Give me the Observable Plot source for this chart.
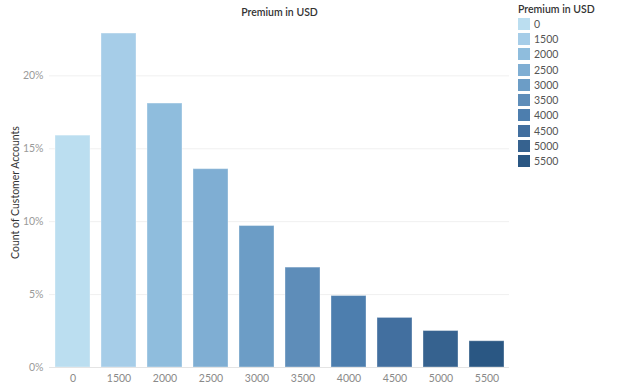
<!DOCTYPE html>
<html><head><meta charset="utf-8">
<script src="https://cdn.jsdelivr.net/npm/d3@7"></script>
<script src="https://cdn.jsdelivr.net/npm/@observablehq/plot@0.6"></script>
<style>
body{margin:0;background:#fff;font-family:Lato,"Noto Sans",sans-serif;}
#wrap{position:relative;width:624px;height:385px;}
#legend{position:absolute;left:518px;top:2px;font-size:10.5px;}
#legend .t{color:#333;font-weight:600;height:14px;line-height:14px;}
#legend .i{display:flex;align-items:center;height:15.3px;color:#555;}
#legend .s{width:12px;height:12px;margin-right:4px;}
</style></head>
<body><div id="wrap"><div id="legend"></div></div>
<script>
const premiums = ["0","1500","2000","2500","3000","3500","4000","4500","5000","5500"];
const shares = [0.159,0.229,0.181,0.136,0.097,0.0685,0.049,0.034,0.025,0.018];
const colors = ["#bbdef0","#a6cde8","#8fbddd","#7faed3","#6c9dc6","#5e8db9","#4d7eae","#426f9f","#36628f","#2a5783"];
const titleText = "Premium in USD";
const yLabel = "Count of Customer Accounts";

const data = premiums.map((p,i)=>({premium:p, share:shares[i]}));

const chart = Plot.plot({
  width:624, height:385,
  marginLeft:49, marginRight:115, marginTop:17, marginBottom:18,
  style:{fontFamily:"Lato, 'Noto Sans', sans-serif", fontSize:"10.5px", background:"#fff"},
  x:{domain:premiums, paddingInner:0.24, paddingOuter:0.12, label:null},
  y:{domain:[0,0.24], label:yLabel},
  color:{domain:premiums, range:colors},
  marks:[
    Plot.gridY([0.05,0.10,0.15,0.20],{stroke:"#f0f0f0", strokeOpacity:1}),
    Plot.ruleX([0],{frameAnchor:"left", stroke:"#ececec"}),
    Plot.barY(data,{x:"premium", y:"share", fill:"premium", stroke:"#ffffff", strokeOpacity:0.35}),
    Plot.ruleY([0],{stroke:"#e4e4e4"}),
    Plot.axisY({ticks:[0,0.05,0.10,0.15,0.20], tickFormat:d=>Math.round(d*100)+"%", tickSize:0, tickPadding:6, fill:"#9a9a9a",
      label:yLabel, labelAnchor:"center", labelArrow:false, labelOffset:38}),
    Plot.axisX({tickSize:0, tickPadding:7, fill:"#8a8a8a", label:null}),
    Plot.text([titleText],{frameAnchor:"top", dy:-9, fill:"#333", fontWeight:600, fontSize:10.5})
  ]
});
// y-axis label color
chart.querySelectorAll("[aria-label='y-axis label'] text").forEach(t=>t.setAttribute("fill","#333"));
document.getElementById("wrap").prepend(chart);

const lg = document.getElementById("legend");
const t = document.createElement("div"); t.className="t"; t.textContent=titleText; lg.appendChild(t);
premiums.forEach((p,i)=>{
  const d=document.createElement("div"); d.className="i";
  const s=document.createElement("div"); s.className="s"; s.style.background=colors[i];
  const l=document.createElement("span"); l.textContent=p;
  d.appendChild(s); d.appendChild(l); lg.appendChild(d);
});
</script></body></html>
